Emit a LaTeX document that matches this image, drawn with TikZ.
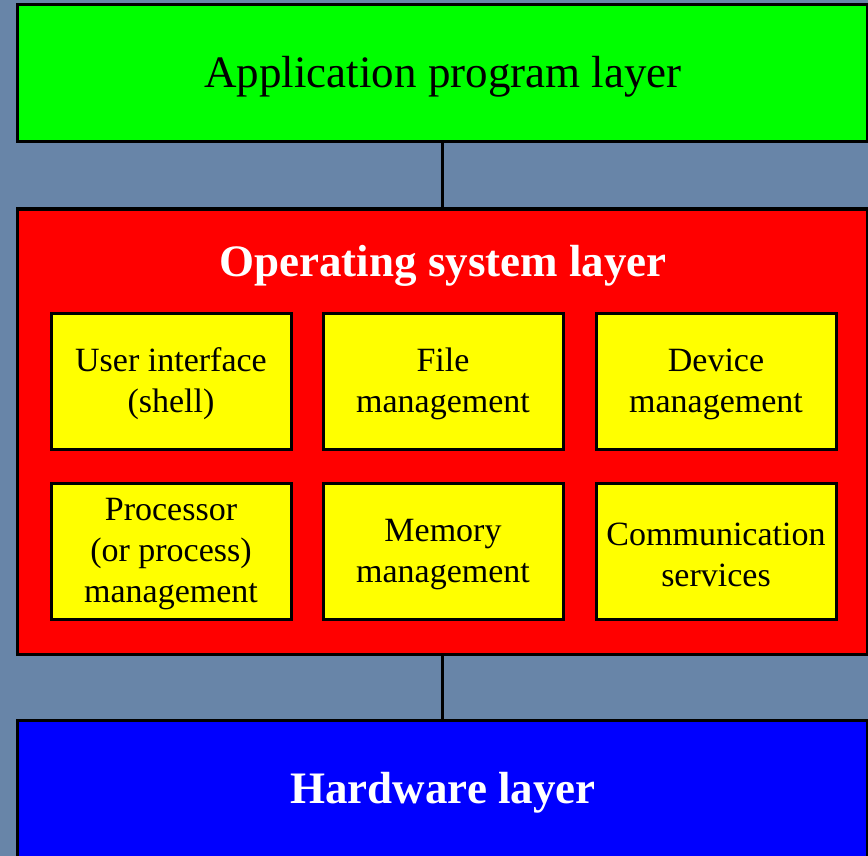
\documentclass[tikz,border=0pt]{standalone}
\usepackage{fontspec}
\setmainfont{Liberation Serif}
\definecolor{bgblue}{RGB}{104,133,168}
\definecolor{pgreen}{RGB}{0,255,0}
\definecolor{pred}{RGB}{255,0,0}
\definecolor{pyellow}{RGB}{255,255,0}
\definecolor{pblue}{RGB}{0,0,255}
\tikzset{
  layerbox/.style={draw=black, line width=3pt, minimum width=850pt, inner sep=0pt},
  subbox/.style={draw=black, fill=pyellow, line width=3pt, minimum width=240pt, minimum height=136pt, inner sep=0pt},
  subtxt/.style={align=center, inner sep=0pt, font=\fontsize{34}{41}\selectfont},
  conn/.style={draw=black, line width=3pt},
  bigtxt/.style={font=\fontsize{45}{54}\selectfont},
  boldtxt/.style={font=\fontsize{45}{54}\selectfont\bfseries, text=white}
}
\begin{document}
\begin{tikzpicture}[x=1pt,y=-1pt]
\useasboundingbox (0,0) rectangle (868,856);
\fill[bgblue] (0,0) rectangle (868,856);
\node[layerbox, fill=pgreen, minimum height=137pt] (app) at (442.5,73.5) {};
\node[layerbox, fill=pred, minimum height=445pt] (os) at (442.5,431.5) {};
\node[layerbox, fill=pblue, minimum height=138pt] (hw) at (442.5,789) {};
\node[bigtxt] (apptxt) at (443,77) {Application program layer};
\node[boldtxt] (ostitle) at (443,266) {Operating system layer};
\node[boldtxt] (hwtxt) at (443,793) {Hardware layer};
\draw[conn] (app.south) -- (os.north);
\draw[conn] (os.south) -- (hw.north);
\node[subbox] (ui) at (171,381) {};
\node[subbox] (file) at (443,381) {};
\node[subbox] (dev) at (716,381) {};
\node[subbox] (proc) at (171,551.5) {};
\node[subbox] (mem) at (443,551.5) {};
\node[subbox] (comm) at (716,551.5) {};
\node[subtxt] (uit) at ([yshift=-3pt]ui.center) {User interface\\(shell)};
\node[subtxt] (filet) at ([yshift=-3pt]file.center) {File\\management};
\node[subtxt] (devt) at ([yshift=-3pt]dev.center) {Device\\management};
\node[subtxt] (proct) at ([yshift=-3pt]proc.center) {Processor\\(or process)\\management};
\node[subtxt] (memt) at ([yshift=-3pt]mem.center) {Memory\\management};
\node[subtxt] (commt) at ([yshift=-3pt]comm.center) {Communication\\services};
\end{tikzpicture}
\end{document}
